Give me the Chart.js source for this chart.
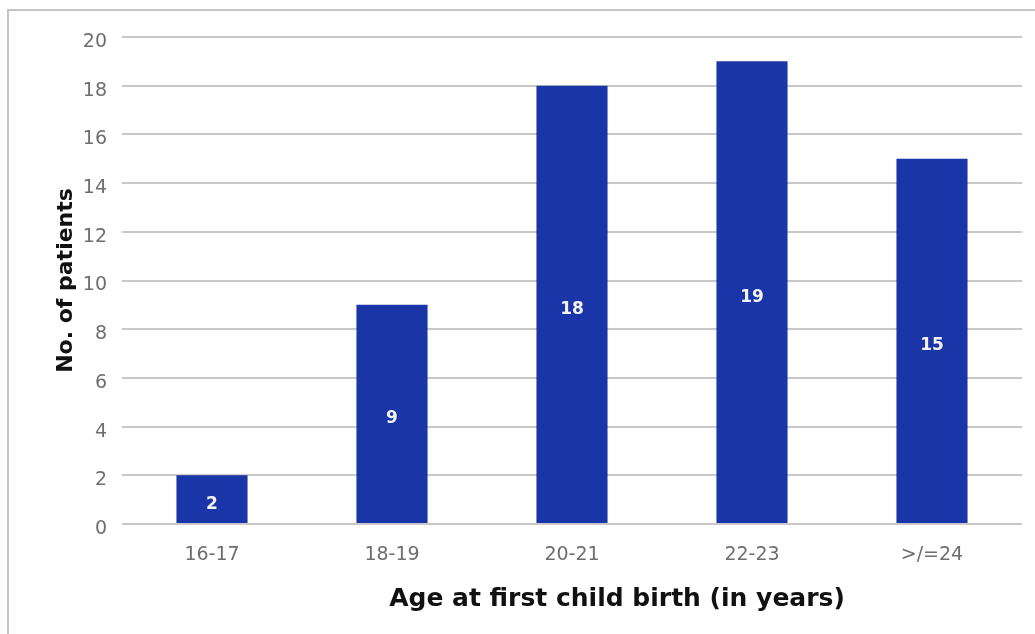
<!DOCTYPE html>
<html>
<head>
<meta charset="utf-8">
<script src="https://cdn.jsdelivr.net/npm/chart.js@4.4.1/dist/chart.umd.min.js"></script>
<style>
  html, body { margin: 0; padding: 0; background: #fff; }
  #wrap { position: relative; width: 1035px; height: 634px; }
</style>
</head>
<body>
<div id="wrap"><canvas id="chart" width="1035" height="634"></canvas></div>
<script>
// data
const ageGroups = ['16-17', '18-19', '20-21', '22-23', '>/=24'];
const patientCounts = [2, 9, 18, 19, 15];
const yTicks = [0, 2, 4, 6, 8, 10, 12, 14, 16, 18, 20];

const xTitle = 'Age at first child birth (in years)';
const yTitle = 'No. of patients';

const FONT = '"DejaVu Sans", "Open Sans", sans-serif';

// frame (left + top border), bar value labels, x title
const extrasPlugin = {
  id: 'extras',
  beforeDraw(chart) {
    const ctx = chart.ctx;
    ctx.save();
    ctx.strokeStyle = '#c4c4c4';
    ctx.lineWidth = 2;
    ctx.beginPath();
    ctx.moveTo(8, 634);
    ctx.lineTo(8, 10);
    ctx.lineTo(1035, 10);
    ctx.stroke();
    ctx.restore();
  },
  afterDatasetsDraw(chart) {
    const ctx = chart.ctx;
    const meta = chart.getDatasetMeta(0);
    ctx.save();
    ctx.fillStyle = '#f4f4f4';
    ctx.font = 'bold 17px ' + FONT;
    ctx.textAlign = 'center';
    ctx.textBaseline = 'middle';
    meta.data.forEach((bar, i) => {
      const mid = (bar.y + bar.base) / 2 + 5;
      ctx.fillText(String(patientCounts[i]), bar.x, mid);
    });
    // x axis title sits a bit right of centre in the original
    ctx.fillStyle = '#111111';
    ctx.font = 'bold 25px ' + FONT;
    ctx.textBaseline = 'alphabetic';
    ctx.fillText(xTitle, 617, 606);
    ctx.restore();
  }
};

const ctx = document.getElementById('chart').getContext('2d');
const chart = new Chart(ctx, {
  type: 'bar',
  data: {
    labels: ageGroups,
    datasets: [{
      data: patientCounts,
      backgroundColor: '#1935a8',
      borderWidth: 0,
      categoryPercentage: 1.0,
      barPercentage: 0.395
    }]
  },
  options: {
    responsive: false,
    animation: false,
    layout: { padding: { left: 0, right: 13, top: 37, bottom: 0 } },
    plugins: {
      legend: { display: false },
      tooltip: { enabled: false }
    },
    scales: {
      x: {
        grid: { display: false, drawTicks: false },
        border: { display: false },
        ticks: {
          color: '#6e6e6e',
          font: { family: FONT, size: 19 },
          padding: 20,
          maxRotation: 0
        },
        afterFit(scale) { scale.height = 110; }
      },
      y: {
        min: 0,
        max: 20,
        afterBuildTicks(scale) {
          scale.ticks = yTicks.map(v => ({ value: v }));
        },
        grid: { color: '#c8c8c8', lineWidth: 2, drawTicks: false },
        border: { display: false },
        ticks: {
          color: '#6e6e6e',
          font: { family: FONT, size: 19 },
          padding: 15,
          labelOffset: 5
        },
        title: {
          display: true,
          text: yTitle,
          color: '#111111',
          font: { family: FONT, size: 22, weight: 'bold' },
          padding: { top: 53, bottom: 0 }
        },
        afterFit(scale) { scale.width = 122; }
      }
    }
  },
  plugins: [extrasPlugin]
});
</script>
</body>
</html>
